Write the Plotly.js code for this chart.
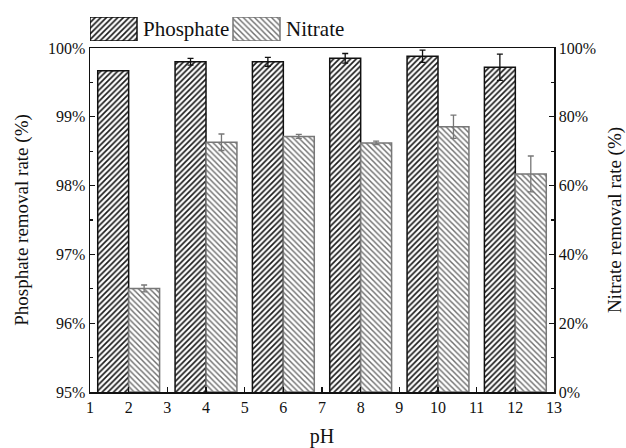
<!DOCTYPE html>
<html>
<head>
<meta charset="utf-8">
<script src="https://cdn.plot.ly/plotly-3.0.1.min.js"></script>
<style>
html,body{margin:0;padding:0;background:#fff}
#chart{width:626px;height:448px}
</style>
</head>
<body>
<div id="chart"></div>
<script>
// Data
var pH = [2, 4, 6, 8, 10, 12];
var phosphateRate = [99.67, 99.80, 99.80, 99.85, 99.88, 99.72];   // %, left axis
var phosphateErr  = [0, 0.05, 0.065, 0.07, 0.09, 0.19];
var nitrateRate   = [30.1, 72.6, 74.3, 72.4, 77.1, 63.4];          // %, right axis
var nitrateErr    = [1.0, 2.4, 0.6, 0.5, 3.4, 5.2];
var seriesNames   = ['Phosphate', 'Nitrate'];
var xTicks = [1,2,3,4,5,6,7,8,9,10,11,12,13];

var FONT = '"Liberation Serif", "Times New Roman", serif';
var darkPat = {shape: '/', size: 4, solidity: 0.42, fgcolor: '#1a1a1a', bgcolor: '#ffffff'};
var greyPat = {shape: '\\', size: 4, solidity: 0.36, fgcolor: '#6e6e6e', bgcolor: '#ffffff'};

var traces = [
  {
    type: 'bar', name: seriesNames[0], x: pH, y: phosphateRate,
    xaxis: 'x', yaxis: 'y', width: 0.8, offset: -0.8,
    marker: {color: '#ffffff', pattern: darkPat, line: {color: '#111111', width: 1.5}},
    error_y: {type: 'data', array: phosphateErr, symmetric: true,
              color: '#111111', thickness: 1.3, width: 3},
    showlegend: false
  },
  {
    type: 'bar', name: seriesNames[1], x: pH, y: nitrateRate,
    xaxis: 'x', yaxis: 'y2', width: 0.8, offset: 0,
    marker: {color: '#ffffff', pattern: greyPat, line: {color: '#777777', width: 1.5}},
    error_y: {type: 'data', array: nitrateErr, symmetric: true,
              color: '#777777', thickness: 1.3, width: 3},
    showlegend: false
  },
  // custom legend swatches (decoration, not data)
  {
    type: 'bar', x: [23.5], y: [1], width: [47], xaxis: 'x3', yaxis: 'y3', cliponaxis: false,
    marker: {color: '#ffffff', pattern: darkPat, line: {color: '#111111', width: 1.5}},
    hoverinfo: 'skip', showlegend: false
  },
  {
    type: 'bar', x: [166.5], y: [1], width: [47], xaxis: 'x3', yaxis: 'y3', cliponaxis: false,
    marker: {color: '#ffffff', pattern: greyPat, line: {color: '#777777', width: 1.5}},
    hoverinfo: 'skip', showlegend: false
  }
];

var mainTop = (392 - 48) / 375;
var layout = {
  width: 626, height: 448,
  margin: {l: 90, r: 72, t: 17, b: 56, pad: 0},
  paper_bgcolor: '#ffffff', plot_bgcolor: '#ffffff',
  font: {family: FONT, size: 15, color: '#111111'},
  barmode: 'overlay',
  showlegend: false,
  xaxis: {
    domain: [0, 1], anchor: 'y', range: [1, 13], tickmode: 'array', tickvals: xTicks,
    ticktext: xTicks.map(String),
    ticks: 'inside', ticklen: 5, tickwidth: 1.2, tickcolor: '#111',
    showline: true, linecolor: '#111', linewidth: 1.5, mirror: true,
    showgrid: false, zeroline: false,
    tickfont: {family: FONT, size: 16},
    title: {text: 'pH', font: {family: FONT, size: 20}, standoff: 16}
  },
  yaxis: {
    domain: [0, mainTop], anchor: 'x', range: [95, 100], dtick: 1, tick0: 95,
    ticksuffix: '%', ticks: 'inside', ticklen: 5, tickwidth: 1.2, tickcolor: '#111',
    minor: {dtick: 0.5, ticks: 'inside', ticklen: 3, tickcolor: '#111', showgrid: false},
    showline: true, linecolor: '#111', linewidth: 1.5,
    showgrid: false, zeroline: false,
    tickfont: {family: FONT, size: 16},
    title: {text: 'Phosphate removal rate (%)', font: {family: FONT, size: 19}, standoff: 14}
  },
  yaxis2: {
    domain: [0, mainTop], anchor: 'x', overlaying: 'y', side: 'right',
    range: [0, 100], dtick: 20, tick0: 0,
    ticksuffix: '%', ticks: 'inside', ticklen: 5, tickwidth: 1.2, tickcolor: '#111',
    minor: {dtick: 10, ticks: 'inside', ticklen: 3, tickcolor: '#111', showgrid: false},
    showline: true, linecolor: '#111', linewidth: 1.5,
    showgrid: false, zeroline: false,
    tickfont: {family: FONT, size: 16},
    title: {text: 'Nitrate removal rate (%)', font: {family: FONT, size: 19}, standoff: 12}
  },
  xaxis3: {domain: [0, 1], anchor: 'y3', range: [0, 464], visible: false, fixedrange: true},
  yaxis3: {domain: [(392 - 41) / 375, 1], anchor: 'x3', range: [0, 1], visible: false, fixedrange: true},
  annotations: [
    {xref: 'x3', yref: 'y3', x: 51, y: 0.5, xanchor: 'left', yanchor: 'middle', showarrow: false,
     text: seriesNames[0], font: {family: FONT, size: 21, color: '#111'}},
    {xref: 'x3', yref: 'y3', x: 194, y: 0.5, xanchor: 'left', yanchor: 'middle', showarrow: false,
     text: seriesNames[1], font: {family: FONT, size: 21, color: '#111'}}
  ]
};

Plotly.newPlot('chart', traces, layout, {displayModeBar: false, staticPlot: true});
</script>
</body>
</html>
